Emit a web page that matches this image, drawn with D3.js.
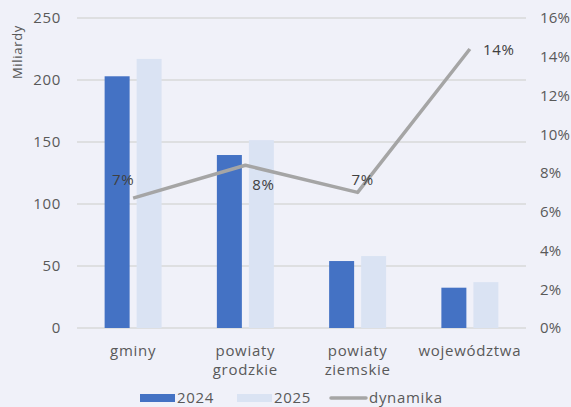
<!DOCTYPE html>
<html>
<head>
<meta charset="utf-8">
<script src="https://cdn.jsdelivr.net/npm/d3@7"></script>
<style>
  body { margin: 0; background: #f0f1f9; }
  svg { display: block; font-family: "Open Sans", "Noto Sans", sans-serif; }
  svg text { letter-spacing: 0.7px; }
  svg .right-axis text { letter-spacing: 0.2px; }
</style>
</head>
<body>
<svg width="571" height="407"></svg>
<script>
// chart data
const categories = [["gminy"], ["powiaty", "grodzkie"], ["powiaty", "ziemskie"], ["województwa"]];
const values2024 = [203, 139.5, 54, 32.5];
const values2025 = [217, 151.5, 58, 37];
const dynamika = [0.067, 0.084, 0.070, 0.144];
const dynamikaLabels = ["7%", "8%", "7%", "14%"];
const leftTicks = [0, 50, 100, 150, 200, 250];
const rightTicks = [0, 0.02, 0.04, 0.06, 0.08, 0.10, 0.12, 0.14, 0.16];

const svg = d3.select("svg");
const textColor = "#595959";

// plot area
const plotLeft = 77, plotRight = 526, plotTop = 18, plotBottom = 328;

const x = d3.scaleBand()
    .domain(d3.range(categories.length))
    .range([plotLeft, plotRight]);

const yLeft = d3.scaleLinear().domain([0, 250]).range([plotBottom, plotTop]);
const yRight = d3.scaleLinear().domain([0, 0.16]).range([plotBottom, plotTop]);

// gridlines
svg.append("g")
    .selectAll("line")
    .data(leftTicks)
    .join("line")
    .attr("x1", plotLeft)
    .attr("x2", plotRight)
    .attr("y1", d => yLeft(d))
    .attr("y2", d => yLeft(d))
    .attr("stroke", "#d9d9d9")
    .attr("stroke-width", 1.3);

// left axis
const leftAxis = svg.append("g")
    .attr("transform", `translate(${plotLeft - 16},0)`)
    .call(d3.axisLeft(yLeft).tickValues(leftTicks).tickSize(0).tickPadding(0));
leftAxis.select(".domain").remove();
leftAxis.selectAll("text")
    .attr("fill", textColor)
    .attr("font-size", "15px")
    .attr("font-family", "Open Sans, Noto Sans, sans-serif");

// right axis
const rightAxis = svg.append("g")
    .attr("class", "right-axis")
    .attr("transform", `translate(${plotRight + 14},0)`)
    .call(d3.axisRight(yRight).tickValues(rightTicks).tickSize(0).tickPadding(0)
        .tickFormat(d3.format(".0%")));
rightAxis.select(".domain").remove();
rightAxis.selectAll("text")
    .attr("fill", textColor)
    .attr("font-size", "15px")
    .attr("font-family", "Open Sans, Noto Sans, sans-serif");

// y axis title
svg.append("text")
    .attr("transform", "translate(22,52) rotate(-90)")
    .attr("text-anchor", "middle")
    .attr("fill", textColor)
    .attr("font-size", "13px")
    .text("Miliardy");

// bars
const barW = 25, gap = 7;
const series = [
    { values: values2024, color: "#4472c4", offset: -(barW + gap / 2) },
    { values: values2025, color: "#dae3f3", offset: gap / 2 }
];
series.forEach(s => {
    svg.append("g")
        .selectAll("rect")
        .data(s.values)
        .join("rect")
        .attr("x", (d, i) => x(i) + x.bandwidth() / 2 + s.offset)
        .attr("y", d => yLeft(d))
        .attr("width", barW)
        .attr("height", d => plotBottom - yLeft(d))
        .attr("fill", s.color);
});

// dynamika line
const line = d3.line()
    .x((d, i) => x(i) + x.bandwidth() / 2)
    .y(d => yRight(d));

svg.append("path")
    .datum(dynamika)
    .attr("d", line)
    .attr("fill", "none")
    .attr("stroke", "#a5a5a5")
    .attr("stroke-width", 3.5)
    .attr("stroke-linejoin", "round");

// line labels (offsets as placed in the reference)
const labelOffsets = [[-10, -13], [18, 25], [5, -7], [29, 6]];
svg.append("g")
    .selectAll("text")
    .data(dynamika)
    .join("text")
    .attr("x", (d, i) => x(i) + x.bandwidth() / 2 + labelOffsets[i][0])
    .attr("y", (d, i) => yRight(d) + labelOffsets[i][1])
    .attr("text-anchor", "middle")
    .attr("fill", "#404040")
    .attr("font-size", "15px")
    .text((d, i) => dynamikaLabels[i]);

// category labels
const catG = svg.append("g");
categories.forEach((lines, i) => {
    const t = catG.append("text")
        .attr("x", x(i) + x.bandwidth() / 2)
        .attr("y", 356)
        .attr("text-anchor", "middle")
        .attr("fill", textColor)
        .attr("font-size", "15px");
    lines.forEach((l, j) => {
        t.append("tspan")
            .attr("x", x(i) + x.bandwidth() / 2)
            .attr("dy", j === 0 ? 0 : 19)
            .text(l);
    });
});

// legend
const legend = svg.append("g");
legend.append("rect").attr("x", 140).attr("y", 394).attr("width", 35).attr("height", 8).attr("fill", "#4472c4");
legend.append("text").attr("x", 177).attr("y", 403).attr("fill", textColor).attr("font-size", "15px").text("2024");
legend.append("rect").attr("x", 237).attr("y", 394).attr("width", 35).attr("height", 8).attr("fill", "#dae3f3");
legend.append("text").attr("x", 274).attr("y", 403).attr("fill", textColor).attr("font-size", "15px").text("2025");
legend.append("line").attr("x1", 331).attr("x2", 366).attr("y1", 398).attr("y2", 398)
    .attr("stroke", "#a5a5a5").attr("stroke-width", 3.5).attr("stroke-linecap", "round");
legend.append("text").attr("x", 369).attr("y", 403).attr("fill", textColor).attr("font-size", "15px").text("dynamika");
</script>
</body>
</html>
